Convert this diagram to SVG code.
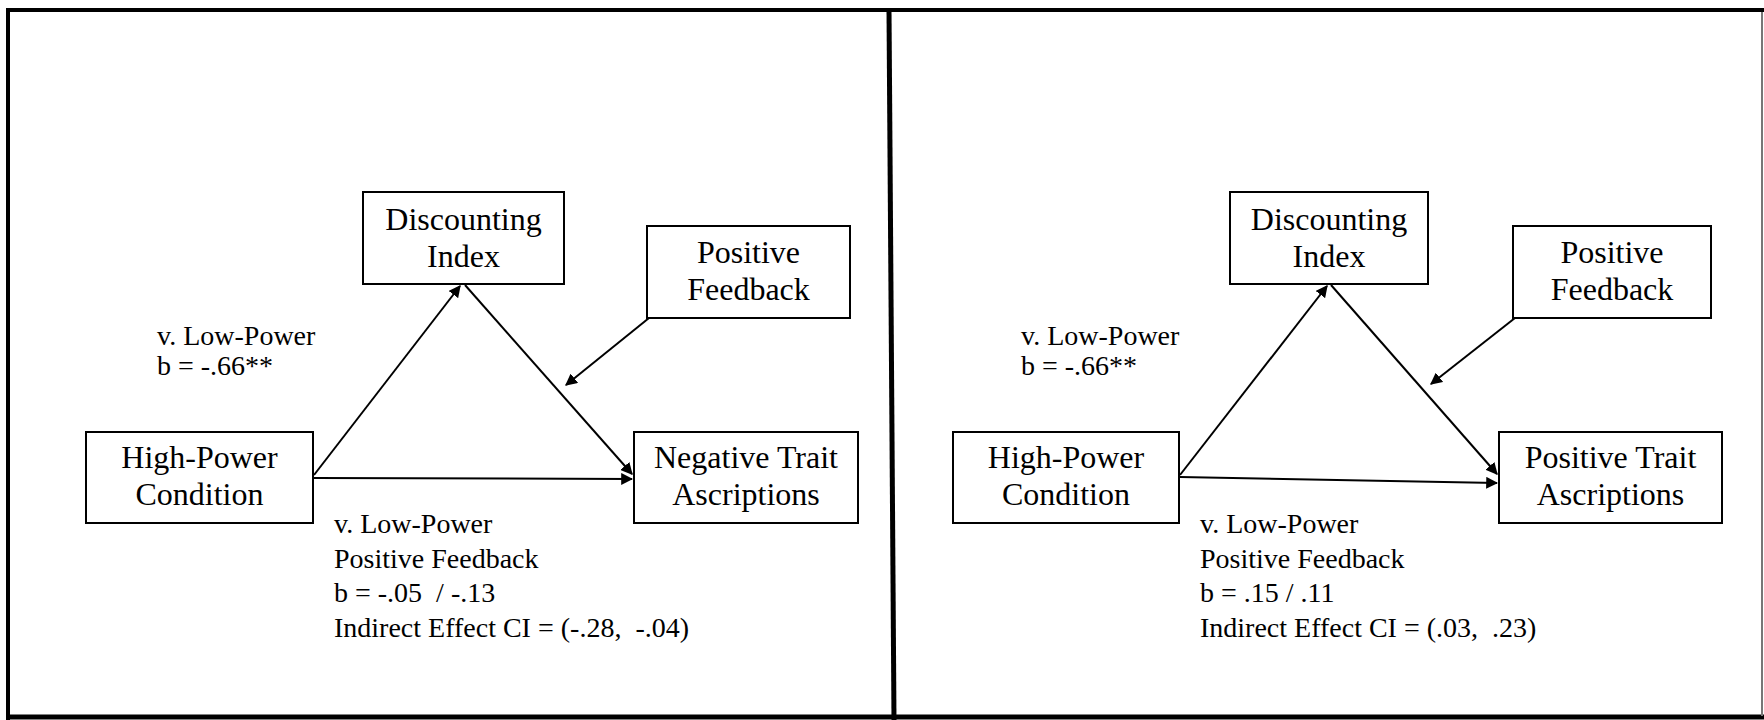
<svg xmlns="http://www.w3.org/2000/svg" width="1764" height="720" viewBox="0 0 1764 720">
<style>
.box{fill:#fff;stroke:#000;stroke-width:2}
.bt{font-family:"Liberation Serif","Times New Roman",serif;font-size:32px;fill:#000;text-anchor:middle}
.lb{font-family:"Liberation Serif","Times New Roman",serif;font-size:28px;fill:#000;white-space:pre}
.cn{stroke:#000;stroke-width:2;fill:none;marker-end:url(#ah)}
.fr{stroke:#000;fill:none}
</style>
<defs>
<marker id="ah" viewBox="0 0 10 10" refX="9" refY="5" markerWidth="6" markerHeight="6" orient="auto" markerUnits="strokeWidth">
<path d="M0,0 L10,5 L0,10 z" fill="#000"/>
</marker>
</defs>
<rect width="1764" height="720" fill="#fff"/>
<g id="frame">
<line class="fr" x1="6" y1="10" x2="1764" y2="10" stroke-width="4"/>
<line class="fr" x1="8" y1="8" x2="8" y2="720" stroke-width="4"/>
<line class="fr" x1="6" y1="717" x2="1764" y2="717" stroke-width="5"/>
<line class="fr" x1="889" y1="10" x2="894" y2="720" stroke-width="5"/>
<line x1="1762" y1="12" x2="1762" y2="716" stroke="#777" stroke-width="2"/>
</g>
<g id="connectors">
<line class="cn" x1="314" y1="475" x2="460" y2="286"/>
<line class="cn" x1="465" y1="285" x2="632" y2="474"/>
<line class="cn" x1="314" y1="478" x2="632" y2="479"/>
<line class="cn" x1="649" y1="318" x2="566" y2="385"/>
<line class="cn" x1="1180" y1="475" x2="1327" y2="286"/>
<line class="cn" x1="1331" y1="285" x2="1497" y2="474"/>
<line class="cn" x1="1180" y1="477" x2="1497" y2="483"/>
<line class="cn" x1="1515" y1="318" x2="1431" y2="384"/>
</g>
<g id="L-discounting">
<rect class="box" x="363" y="192" width="201" height="92"/>
<text class="bt" x="463.5" y="230">Discounting</text>
<text class="bt" x="463.5" y="267">Index</text>
</g>
<g id="L-feedback">
<rect class="box" x="647" y="226" width="203" height="92"/>
<text class="bt" x="748.5" y="263">Positive</text>
<text class="bt" x="748.5" y="300">Feedback</text>
</g>
<g id="L-highpower">
<rect class="box" x="86" y="432" width="227" height="91"/>
<text class="bt" x="199.5" y="468">High-Power</text>
<text class="bt" x="199.5" y="505">Condition</text>
</g>
<g id="L-negative">
<rect class="box" x="634" y="432" width="224" height="91"/>
<text class="bt" x="746" y="468">Negative Trait</text>
<text class="bt" x="746" y="505">Ascriptions</text>
</g>
<g id="L-labels">
<text class="lb" x="157" y="345">v. Low-Power</text>
<text class="lb" x="157" y="375">b = -.66**</text>
<text class="lb" x="334" y="533">v. Low-Power</text>
<text class="lb" x="334" y="568">Positive Feedback</text>
<text class="lb" x="334" y="602">b = -.05  / -.13</text>
<text class="lb" x="334" y="637">Indirect Effect CI = (-.28,  -.04)</text>
</g>
<g id="R-discounting">
<rect class="box" x="1230" y="192" width="198" height="92"/>
<text class="bt" x="1329" y="230">Discounting</text>
<text class="bt" x="1329" y="267">Index</text>
</g>
<g id="R-feedback">
<rect class="box" x="1513" y="226" width="198" height="92"/>
<text class="bt" x="1612" y="263">Positive</text>
<text class="bt" x="1612" y="300">Feedback</text>
</g>
<g id="R-highpower">
<rect class="box" x="953" y="432" width="226" height="91"/>
<text class="bt" x="1066" y="468">High-Power</text>
<text class="bt" x="1066" y="505">Condition</text>
</g>
<g id="R-positive">
<rect class="box" x="1499" y="432" width="223" height="91"/>
<text class="bt" x="1610.5" y="468">Positive Trait</text>
<text class="bt" x="1610.5" y="505">Ascriptions</text>
</g>
<g id="R-labels">
<text class="lb" x="1021" y="345">v. Low-Power</text>
<text class="lb" x="1021" y="375">b = -.66**</text>
<text class="lb" x="1200" y="533">v. Low-Power</text>
<text class="lb" x="1200" y="568">Positive Feedback</text>
<text class="lb" x="1200" y="602">b = .15 / .11</text>
<text class="lb" x="1200" y="637">Indirect Effect CI = (.03,  .23)</text>
</g>
</svg>
